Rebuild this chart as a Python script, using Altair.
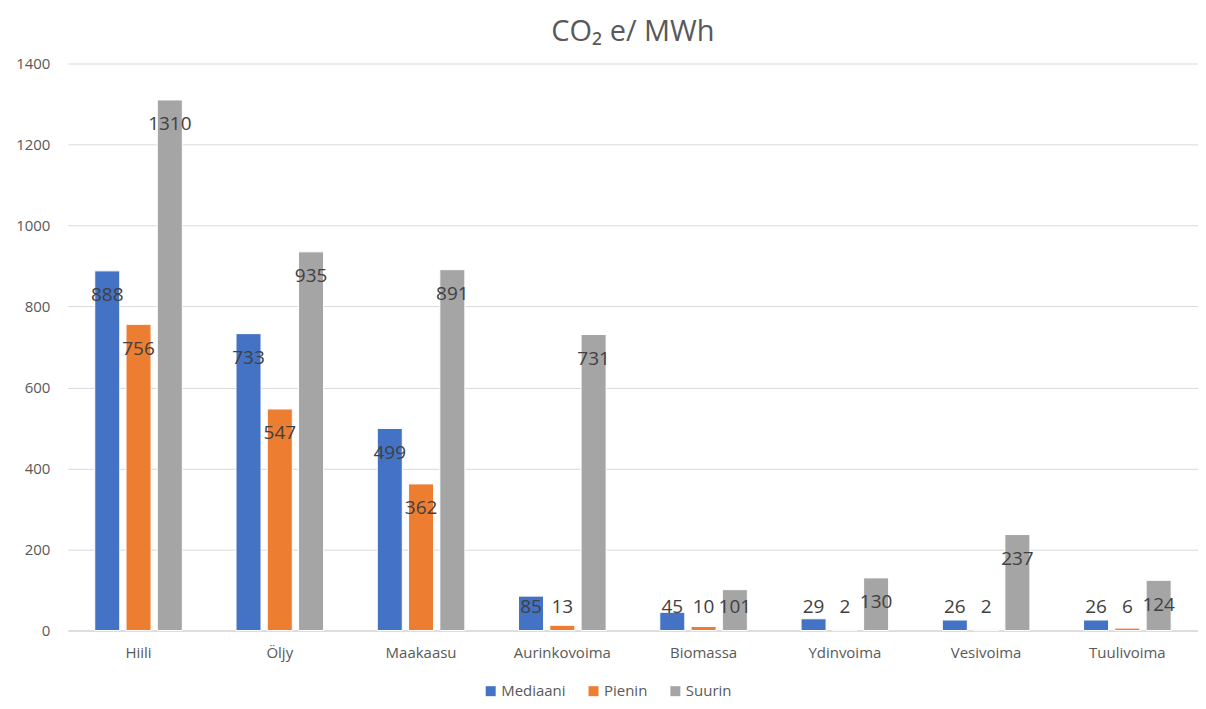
import altair as alt
import pandas as pd

categories = ["Hiili", "Öljy", "Maakaasu", "Aurinkovoima", "Biomassa", "Ydinvoima", "Vesivoima", "Tuulivoima"]
series = ["Mediaani", "Pienin", "Suurin"]
mediaani = [888, 733, 499, 85, 45, 29, 26, 26]
pienin = [756, 547, 362, 13, 10, 2, 2, 6]
suurin = [1310, 935, 891, 731, 101, 130, 237, 124]
colors = ["#4472C4", "#ED7D31", "#A5A5A5"]

rows = []
for i, c in enumerate(categories):
    for s, vals in zip(series, [mediaani, pienin, suurin]):
        rows.append({"cat": c, "series": s, "value": vals[i]})
df = pd.DataFrame(rows)

FONT = "Open Sans"

x = alt.X("cat:N", sort=categories, title=None,
          scale=alt.Scale(paddingInner=0.38, paddingOuter=0.19),
          axis=alt.Axis(labelAngle=0, labelFont=FONT, labelFontSize=15, labelColor="#595959",
                        labelPadding=15, ticks=False, domain=True, domainColor="#D9D9D9",
                        domainWidth=1.5, grid=False))
xoff = alt.XOffset("series:N", sort=series, scale=alt.Scale(paddingInner=0.2, paddingOuter=0))

bars = alt.Chart(df).mark_bar(stroke="white", strokeWidth=1).encode(
    x=x,
    xOffset=xoff,
    y=alt.Y("value:Q", title=None,
            scale=alt.Scale(domain=[0, 1400], nice=False),
            axis=alt.Axis(values=list(range(0, 1401, 200)), format="d", labelFont=FONT,
                          labelFontSize=15, labelColor="#595959", labelPadding=18, ticks=False,
                          domain=False, gridColor="#D9D9D9", gridWidth=1)),
    color=alt.Color("series:N", sort=series, title=None,
                    scale=alt.Scale(domain=series, range=colors),
                    legend=alt.Legend(orient="none", legendX=416, legendY=621,
                                      direction="horizontal", symbolType="square",
                                      symbolSize=100, symbolStrokeWidth=0, labelFont=FONT,
                                      labelFontSize=15, labelColor="#595959", columnPadding=20,
                                      labelOffset=3)),
)

labels = alt.Chart(df).transform_calculate(
    ly="max(datum.value - 60, 57)"
).mark_text(font=FONT, fontSize=19, color="#404040", baseline="middle", align="center").encode(
    x=x,
    xOffset=xoff,
    y=alt.Y("ly:Q"),
    text=alt.Text("value:Q"),
)

chart = alt.layer(bars, labels).properties(
    width=1132, height=568,
    title=alt.TitleParams("CO₂ e/ MWh", font=FONT, fontSize=29, color="#595959",
                          fontWeight="normal", anchor="middle", offset=10),
    autosize=alt.AutoSizeParams(type="none"),
    padding={"left": 60, "top": 55, "right": 0, "bottom": 70},
).configure_view(stroke=None)

chart.save("out.html", embed_options={"renderer": "svg", "actions": False})
